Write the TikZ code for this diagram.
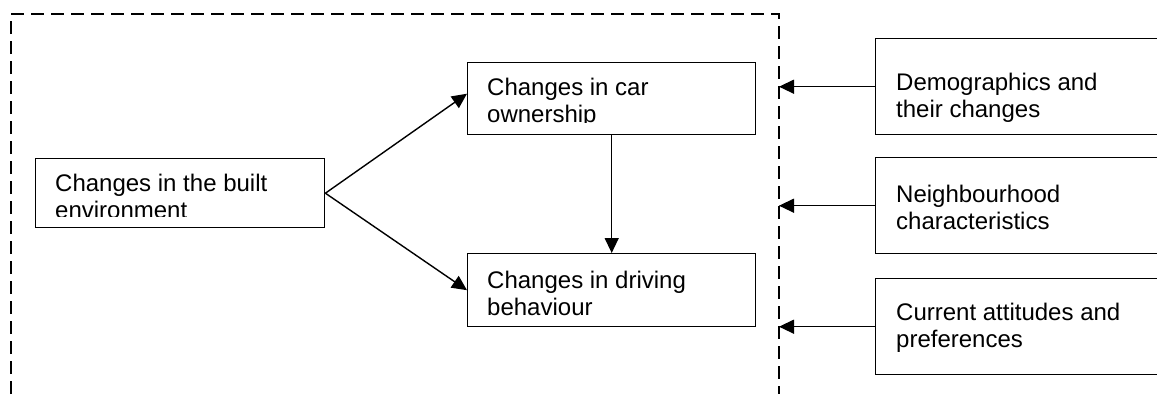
\documentclass[tikz,border=0pt]{standalone}
\usepackage{fontspec}
\setmainfont{Liberation Sans}
\usetikzlibrary{arrows.meta}
\begin{document}
\begin{tikzpicture}[x=1pt,y=-1pt,
  box/.style={draw, line width=1.4pt, anchor=north west, inner sep=0pt},
  lbl/.style={anchor=north west, inner sep=0pt, align=left, font=\fontsize{24}{27}\selectfont},
  arr/.style={line width=1.4pt, -{Triangle[length=15pt,width=14pt]}},
  frameline/.style={line width=1.4pt, dash pattern=on 13pt off 7pt}]
\clip (0,0) rectangle (1157,394);
\fill[white] (0,0) rectangle (1157,394);
% dashed frame (open at the bottom)
\coordinate (fr) at (779,14);
\draw[frameline] (11,394) -- (11,14) -- (fr) -- (779,394);
% boxes
\node[box, minimum width=289pt, minimum height=69pt] (env) at (35,158) {};
\node[box, minimum width=288pt, minimum height=72pt] (own) at (467,62) {};
\node[box, minimum width=288pt, minimum height=73pt] (drv) at (467,253) {};
\node[box, minimum width=320pt, minimum height=96pt] (dem) at (875,38) {};
\node[box, minimum width=320pt, minimum height=96pt] (nei) at (875,157) {};
\node[box, minimum width=320pt, minimum height=96pt] (att) at (875,278) {};
% labels (text frames clip the lower lines as in the original)
\begin{scope}
  \clip (35,158) rectangle (324,216.5);
  \node[lbl] (envt) at ([shift={(20,16)}]env.north west) {Changes in the built\\environment};
\end{scope}
\begin{scope}
  \clip (467,62) rectangle (755,122);
  \node[lbl] (ownt) at ([shift={(20,16)}]own.north west) {Changes in car\\ownership};
\end{scope}
\node[lbl] (drvt) at ([shift={(20,18)}]drv.north west) {Changes in driving\\behaviour};
\node[lbl] (demt) at ([shift={(21,35)}]dem.north west) {Demographics and\\their changes};
\node[lbl] (neit) at ([shift={(21,28)}]nei.north west) {Neighbourhood\\characteristics};
\node[lbl] (attt) at ([shift={(21,25)}]att.north west) {Current attitudes and\\preferences};
% connectors
\draw[arr] (env.east) -- ([yshift=5pt]own.west);
\draw[arr] (env.east) -- (drv.west);
\draw[arr] (own.south) -- (drv.north);
\draw[arr] (dem.west) -- (dem.west -| fr);
\draw[arr] (nei.west) -- (nei.west -| fr);
\draw[arr] (att.west) -- (att.west -| fr);
\end{tikzpicture}
\end{document}
